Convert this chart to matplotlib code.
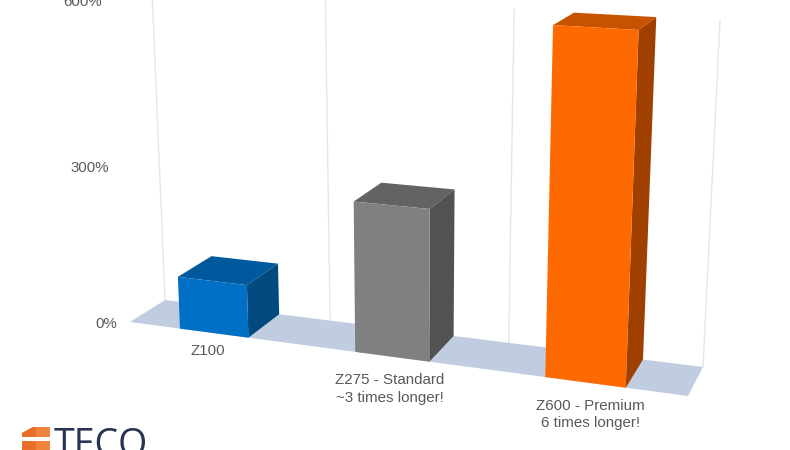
import numpy as np
import matplotlib
matplotlib.use("Agg")
import matplotlib.pyplot as plt
from matplotlib.patches import Polygon

categories = ["Z100", "Z275 - Standard\n~3 times longer!", "Z600 - Premium\n6 times longer!"]
values = [100, 275, 600]
axis_ticks = [0, 300, 600]
tick_labels = ["0%", "300%", "600%"]
front_colors = ["#0070C6", "#808080", "#FF6A00"]
top_colors = ["#00599C", "#636363", "#C75300"]
side_colors = ["#004A80", "#525252", "#A04000"]

plt.rcParams["font.family"] = ["Liberation Sans", "DejaVu Sans"]

# Oblique projection of the chart's box: category position, depth, value -> screen
FL, FR = np.array([130.0, 322.0]), np.array([688.0, 396.0])
BL, BR = np.array([165.0, 300.0]), np.array([703.0, 367.0])
VP = np.array([415.0, 6240.0])
N = len(categories)
K = 0.885
BAR = 0.4


def project(cat, depth, value):
    t = cat / N
    u = t * K / (1 + (K - 1) * t)
    front = FL + (FR - FL) * u
    back = BL + (BR - BL) * u
    floor = front + (back - front) * depth
    scale = 1.01 + 0.0017 * (floor[1] - 322)
    h = scale * 0.5025 * value / (1 - 9.1e-5 * value)
    return np.array([floor[0] - (VP[0] - floor[0]) / (VP[1] - floor[1]) * h, floor[1] - h])


fig = plt.figure(figsize=(7.9, 4.5), dpi=100, facecolor="white")
ax = fig.add_axes([0, 0, 1, 1])
ax.set_xlim(0, 790)
ax.set_ylim(450, 0)
ax.axis("off")

# floor
ax.add_patch(Polygon([project(0, 0, 0), project(N, 0, 0), project(N, 1, 0), project(0, 1, 0)],
                     closed=True, fc="#C0CDE1", ec="none", zorder=1))

# back gridlines
for c in range(N + 1):
    p0, p1 = project(c, 1, 0), project(c, 1, axis_ticks[-1])
    ax.plot([p0[0], p1[0]], [p0[1], p1[1]], color="#E6E6E6", lw=1.0, zorder=0.5)

# bars
for i, v in enumerate(values):
    l, r = i + 0.5 - BAR / 2, i + 0.5 + BAR / 2
    ax.add_patch(Polygon([project(l, 0, v), project(r, 0, v), project(r, 1, v), project(l, 1, v)],
                         closed=True, fc=top_colors[i], ec="none", zorder=3))
    ax.add_patch(Polygon([project(r, 0, 0), project(r, 0, v), project(r, 1, v), project(r, 1, 0)],
                         closed=True, fc=side_colors[i], ec="none", zorder=3))
    ax.add_patch(Polygon([project(l, 0, 0), project(r, 0, 0), project(r, 0, v), project(l, 0, v)],
                         closed=True, fc=front_colors[i], ec="none", zorder=4))

# value axis labels
for t, s in zip(axis_ticks, tick_labels):
    p = project(0, 0, t)
    ax.text(p[0] - 13, p[1] + 2.5, s, ha="right", va="center", fontsize=10.8, color="#595959")

# category labels
label_dx = [-6, -2, 5]
label_dy = [18, 32, 32]
for i, s in enumerate(categories):
    p = project(i + 0.5, 0, 0)
    ax.text(p[0] + label_dx[i], p[1] + label_dy[i], s, ha="center", va="center", fontsize=10.9,
            color="#595959", linespacing=1.32)

# logo, cropped by the bottom edge
ax.add_patch(Polygon([(22, 433), (33, 427), (50, 427), (50, 437), (22, 437)], closed=True, fc="#F0843C", ec="none"))
ax.add_patch(Polygon([(22, 433), (33, 427), (36, 427), (36, 437), (22, 437)], closed=True, fc="#E96F28", ec="none"))
ax.add_patch(Polygon([(22, 441), (50, 441), (50, 450), (22, 450)], closed=True, fc="#F0843C", ec="none"))
ax.add_patch(Polygon([(22, 441), (36, 441), (36, 450), (22, 450)], closed=True, fc="#E96F28", ec="none"))
ax.text(54, 456, "TECO", ha="left", va="baseline", fontsize=27, color="#2B3352", family="Open Sans")

fig.savefig("out.png", dpi=100)
